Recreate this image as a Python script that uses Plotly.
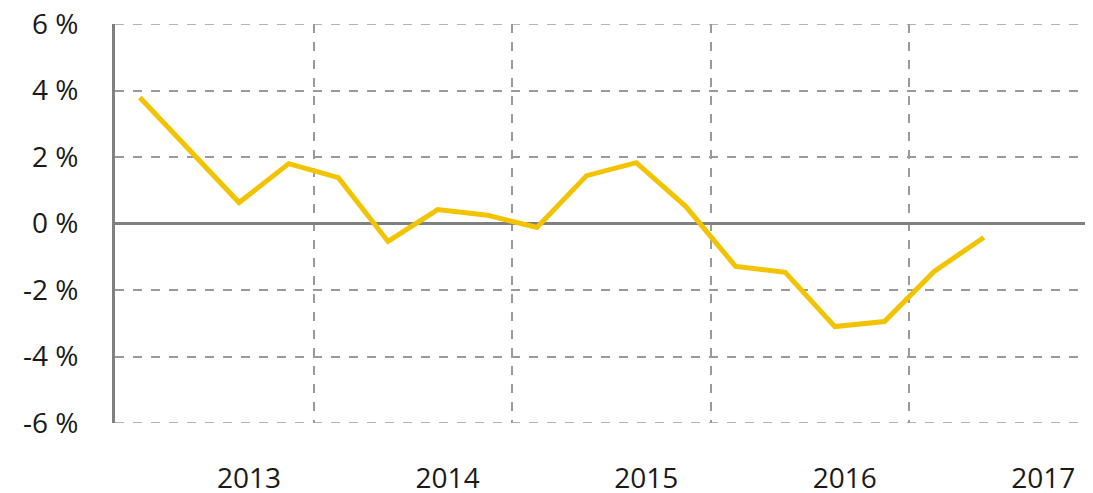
import plotly.graph_objects as go

quarters = list(range(18))
values = [3.79, 2.2, 0.63, 1.80, 1.38, -0.54, 0.42, 0.25, -0.12, 1.44, 1.83, 0.51,
          -1.29, -1.47, -3.10, -2.95, -1.44, -0.42]
year_labels = ["2013", "2014", "2015", "2016", "2017"]
year_label_pos = [2.2, 6.2, 10.2, 14.2, 18.2]
year_bounds = [3.5, 7.5, 11.5, 15.5, 19.5]
y_ticks = [-6, -4, -2, 0, 2, 4, 6]
y_tick_text = [f"{v} %" for v in y_ticks]
edge_lines = [y_ticks[0], y_ticks[-1]]

grid_color = "#9a9a9a"

fig = go.Figure()
fig.add_trace(go.Scatter(
    x=quarters, y=values, mode="lines",
    line=dict(color="#F2C300", width=5),
    hoverinfo="skip", showlegend=False,
))

for yv in edge_lines:
    fig.add_shape(type="line", xref="paper", yref="y", x0=0, x1=1, y0=yv, y1=yv,
                  line=dict(color=grid_color, width=1.5, dash="dash"), layer="below")

font = dict(family="Open Sans, Liberation Sans, sans-serif", size=28, color="#1a1a1a")

fig.update_layout(
    width=1085, height=485,
    margin=dict(l=107, r=0, t=16, b=70),
    paper_bgcolor="white", plot_bgcolor="white",
    font=font,
    xaxis=dict(
        range=[-0.5, 19.2],
        tickmode="array", tickvals=year_label_pos, ticktext=year_labels,
        showgrid=False, zeroline=False, showline=False, ticks="",
        ticklabelstandoff=36, automargin=False, ticklabeloverflow="allow",
        minor=dict(tickmode="array", tickvals=year_bounds, showgrid=True,
                   gridcolor=grid_color, griddash="dash", gridwidth=1.5, ticks=""),
    ),
    yaxis=dict(
        range=[-6, 6],
        tickmode="array", tickvals=y_ticks, ticktext=y_tick_text,
        showgrid=True, gridcolor=grid_color, griddash="dash", gridwidth=1.5,
        zeroline=True, zerolinecolor="#808080", zerolinewidth=3,
        showline=True, linecolor="#808080", linewidth=3,
        ticks="", ticklabelstandoff=28, automargin=False, ticklabeloverflow="allow",
    ),
)

fig.write_html("out.html")
